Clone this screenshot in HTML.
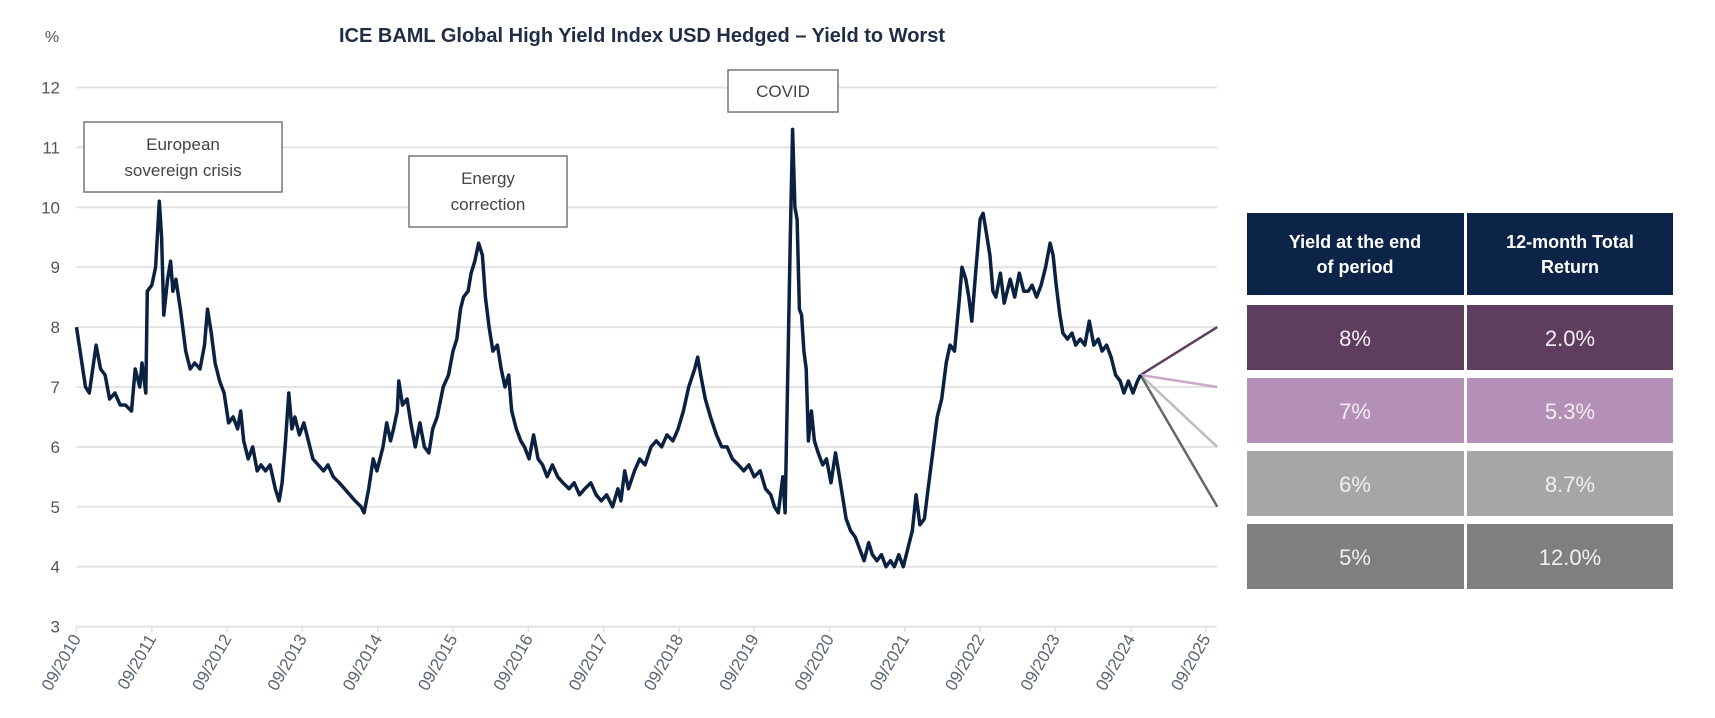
<!DOCTYPE html>
<html><head><meta charset="utf-8">
<style>
html,body{margin:0;padding:0;background:#fff;}
svg{display:block;font-family:"Liberation Sans",Arial,sans-serif;}
</style></head>
<body>
<svg id="chart" width="1715" height="718" viewBox="0 0 1715 718">
<text x="642" y="42" text-anchor="middle" font-size="20" font-weight="bold" fill="#1f2d46">ICE BAML Global High Yield Index USD Hedged – Yield to Worst</text>
<text x="52" y="42" text-anchor="middle" font-size="16" fill="#555">%</text>
<g id="grid"></g>
<g id="yticks"></g>
<g id="xticks"></g>
<g id="fan"></g>
<path id="series" fill="none" stroke="#0b2142" stroke-width="3.5" stroke-linejoin="round"/>
<g>
<rect x="84" y="122" width="198" height="70" fill="#fff" stroke="#777" stroke-width="1.5"/>
<text x="183" y="150" text-anchor="middle" font-size="17" fill="#444">European</text>
<text x="183" y="176" text-anchor="middle" font-size="17" fill="#444">sovereign crisis</text>
</g>
<g>
<rect x="409" y="156" width="158" height="71" fill="#fff" stroke="#777" stroke-width="1.5"/>
<text x="488" y="184" text-anchor="middle" font-size="17" fill="#444">Energy</text>
<text x="488" y="210" text-anchor="middle" font-size="17" fill="#444">correction</text>
</g>
<g>
<rect x="728" y="70" width="110" height="42" fill="#fff" stroke="#777" stroke-width="1.5"/>
<text x="783" y="97" text-anchor="middle" font-size="17" fill="#444">COVID</text>
</g>
<g>
<rect x="1247" y="213" width="217" height="82" fill="#0b2447"/>
<rect x="1467" y="213" width="206" height="82" fill="#0b2447"/>
<text x="1355" y="248" text-anchor="middle" font-size="18" font-weight="bold" fill="#fff">Yield at the end</text>
<text x="1355" y="273" text-anchor="middle" font-size="18" font-weight="bold" fill="#fff">of period</text>
<text x="1570" y="248" text-anchor="middle" font-size="18" font-weight="bold" fill="#fff">12-month Total</text>
<text x="1570" y="273" text-anchor="middle" font-size="18" font-weight="bold" fill="#fff">Return</text>
<g id="rows"></g>
</g>
</svg>
<script>
const yTicks=[3,4,5,6,7,8,9,10,11,12];
const xTickLabels=["09/2010","09/2011","09/2012","09/2013","09/2014","09/2015","09/2016","09/2017","09/2018","09/2019","09/2020","09/2021","09/2022","09/2023","09/2024","09/2025"];
const dates=[2010.75,2010.81,2010.87,2010.92,2011.01,2011.07,2011.13,2011.19,2011.26,2011.33,2011.40,2011.48,2011.53,2011.59,2011.62,2011.67,2011.69,2011.75,2011.80,2011.85,2011.88,2011.91,2011.96,2012.00,2012.03,2012.07,2012.13,2012.20,2012.26,2012.32,2012.39,2012.45,2012.49,2012.54,2012.59,2012.65,2012.71,2012.77,2012.83,2012.89,2012.93,2012.97,2013.03,2013.09,2013.15,2013.20,2013.26,2013.32,2013.39,2013.44,2013.48,2013.52,2013.57,2013.61,2013.65,2013.71,2013.77,2013.83,2013.89,2013.96,2014.03,2014.09,2014.16,2014.24,2014.31,2014.38,2014.45,2014.53,2014.57,2014.63,2014.69,2014.74,2014.82,2014.87,2014.92,2014.96,2015.01,2015.03,2015.08,2015.14,2015.19,2015.25,2015.31,2015.37,2015.43,2015.48,2015.54,2015.62,2015.69,2015.75,2015.80,2015.85,2015.89,2015.95,2015.99,2016.04,2016.09,2016.14,2016.18,2016.23,2016.28,2016.34,2016.39,2016.44,2016.49,2016.53,2016.59,2016.65,2016.70,2016.76,2016.82,2016.88,2016.94,2017.00,2017.07,2017.14,2017.21,2017.29,2017.36,2017.43,2017.50,2017.58,2017.65,2017.72,2017.79,2017.87,2017.94,2017.98,2018.03,2018.08,2018.16,2018.23,2018.30,2018.38,2018.45,2018.52,2018.59,2018.67,2018.74,2018.81,2018.88,2018.96,2019.00,2019.04,2019.10,2019.17,2019.25,2019.32,2019.39,2019.46,2019.54,2019.61,2019.68,2019.75,2019.83,2019.90,2019.97,2020.02,2020.07,2020.13,2020.16,2020.19,2020.23,2020.26,2020.29,2020.32,2020.35,2020.38,2020.41,2020.44,2020.47,2020.51,2020.55,2020.60,2020.66,2020.71,2020.77,2020.83,2020.87,2020.92,2020.97,2021.03,2021.09,2021.15,2021.21,2021.27,2021.32,2021.38,2021.44,2021.50,2021.56,2021.61,2021.67,2021.73,2021.79,2021.85,2021.90,2021.95,2022.01,2022.06,2022.12,2022.18,2022.24,2022.30,2022.35,2022.41,2022.47,2022.51,2022.56,2022.60,2022.64,2022.69,2022.75,2022.79,2022.83,2022.88,2022.92,2022.96,2023.02,2023.07,2023.11,2023.15,2023.21,2023.27,2023.33,2023.39,2023.44,2023.50,2023.56,2023.62,2023.68,2023.72,2023.76,2023.81,2023.85,2023.91,2023.97,2024.02,2024.08,2024.14,2024.20,2024.26,2024.32,2024.37,2024.43,2024.49,2024.55,2024.61,2024.66,2024.72,2024.78,2024.84,2024.88];
const yields=[8.0,7.5,7.0,6.9,7.7,7.3,7.2,6.8,6.9,6.7,6.7,6.6,7.3,7.0,7.4,6.9,8.6,8.7,9.0,10.1,9.5,8.2,8.8,9.1,8.6,8.8,8.3,7.6,7.3,7.4,7.3,7.7,8.3,7.9,7.4,7.1,6.9,6.4,6.5,6.3,6.6,6.1,5.8,6.0,5.6,5.7,5.6,5.7,5.3,5.1,5.4,6.0,6.9,6.3,6.5,6.2,6.4,6.1,5.8,5.7,5.6,5.7,5.5,5.4,5.3,5.2,5.1,5.0,4.9,5.3,5.8,5.6,6.0,6.4,6.1,6.3,6.6,7.1,6.7,6.8,6.4,6.0,6.4,6.0,5.9,6.3,6.5,7.0,7.2,7.6,7.8,8.3,8.5,8.6,8.9,9.1,9.4,9.2,8.5,8.0,7.6,7.7,7.3,7.0,7.2,6.6,6.3,6.1,6.0,5.8,6.2,5.8,5.7,5.5,5.7,5.5,5.4,5.3,5.4,5.2,5.3,5.4,5.2,5.1,5.2,5.0,5.3,5.1,5.6,5.3,5.6,5.8,5.7,6.0,6.1,6.0,6.2,6.1,6.3,6.6,7.0,7.3,7.5,7.2,6.8,6.5,6.2,6.0,6.0,5.8,5.7,5.6,5.7,5.5,5.6,5.3,5.2,5.0,4.9,5.5,4.9,6.8,9.5,11.3,10.0,9.8,8.3,8.2,7.6,7.3,6.1,6.6,6.1,5.9,5.7,5.8,5.4,5.9,5.6,5.2,4.8,4.6,4.5,4.3,4.1,4.4,4.2,4.1,4.2,4.0,4.1,4.0,4.2,4.0,4.3,4.6,5.2,4.7,4.8,5.3,5.9,6.5,6.8,7.4,7.7,7.6,8.4,9.0,8.8,8.5,8.1,8.9,9.8,9.9,9.6,9.2,8.6,8.5,8.9,8.4,8.6,8.8,8.5,8.9,8.6,8.6,8.7,8.5,8.7,9.0,9.4,9.2,8.7,8.2,7.9,7.8,7.9,7.7,7.8,7.7,8.1,7.7,7.8,7.6,7.7,7.5,7.2,7.1,6.9,7.1,6.9,7.1,7.2];
const scenarioYields=[8,7,6,5];
const scenarioYieldLabels=["8%","7%","6%","5%"];
const scenarioReturns=["2.0%","5.3%","8.7%","12.0%"];
const scenarioEndDate=2025.9;

const NS="http://www.w3.org/2000/svg";
const X0=76.5, XS=75.3, Y0=87.5, YS=59.9, XR=1217;
function xs(d){return X0+(d-2010.75)*XS;}
function ys(v){return Y0+(12-v)*YS;}
function mk(tag,attrs,parent){const e=document.createElementNS(NS,tag);for(const k in attrs)e.setAttribute(k,attrs[k]);parent.appendChild(e);return e;}

const grid=document.getElementById('grid'), yt=document.getElementById('yticks'), xt=document.getElementById('xticks');
yTicks.forEach(v=>{
  const l=mk('line',{x1:X0,x2:XR,y1:ys(v),y2:ys(v),stroke:'#e3e3e3','stroke-width':2},grid);
  
  
  const t=mk('text',{x:60,y:ys(v)+6,'text-anchor':'end','font-size':17,fill:'#555'},yt);
  t.textContent=v;
  
  
});
xTickLabels.forEach((lab,i)=>{
  const x=xs(2010.75+i);
  const tk=mk('line',{x1:x,x2:x,y1:ys(3),y2:ys(3)+5,stroke:'#ddd','stroke-width':1.5},xt);
  
  
  const t=mk('text',{x:x+5,y:ys(3)+12,'text-anchor':'end','font-size':17,fill:'#5a6470',transform:`rotate(-60 ${x+5} ${ys(3)+12})`},xt);
  t.textContent=lab;
  
  
});
let d='';
dates.forEach((dt,i)=>{d+=(i?'L':'M')+xs(dt).toFixed(1)+' '+ys(yields[i]).toFixed(1);});
document.getElementById('series').setAttribute('d',d);

const fan=document.getElementById('fan');
const fanColors=['#5e3d5f','#c9a8cc','#bdbdbd','#666'];
const lx=xs(dates[dates.length-1]), ly=ys(yields[yields.length-1]);
scenarioYields.forEach((v,i)=>{
  const l=mk('line',{x1:lx,y1:ly,x2:xs(scenarioEndDate),y2:ys(v),stroke:fanColors[i],'stroke-width':2.5},fan);
  
  
});
const rows=document.getElementById('rows');
const rowColors=['#5e3d5f','#b48fb6','#a6a6a6','#7f7f7f'];
const rowTops=[305,378,451,524];
scenarioYieldLabels.forEach((lab,i)=>{
  const y=rowTops[i];
  const a=mk('rect',{x:1247,y:y,width:217,height:65,fill:rowColors[i]},rows);
  
  
  const b=mk('rect',{x:1467,y:y,width:206,height:65,fill:rowColors[i]},rows);
  
  
  const t1=mk('text',{x:1355,y:y+41,'text-anchor':'middle','font-size':22,fill:'#f4eef4'},rows);
  t1.textContent=lab;
  
  
  const t2=mk('text',{x:1570,y:y+41,'text-anchor':'middle','font-size':22,fill:'#f4eef4'},rows);
  t2.textContent=scenarioReturns[i];
  
  
});
</script>
</body></html>
